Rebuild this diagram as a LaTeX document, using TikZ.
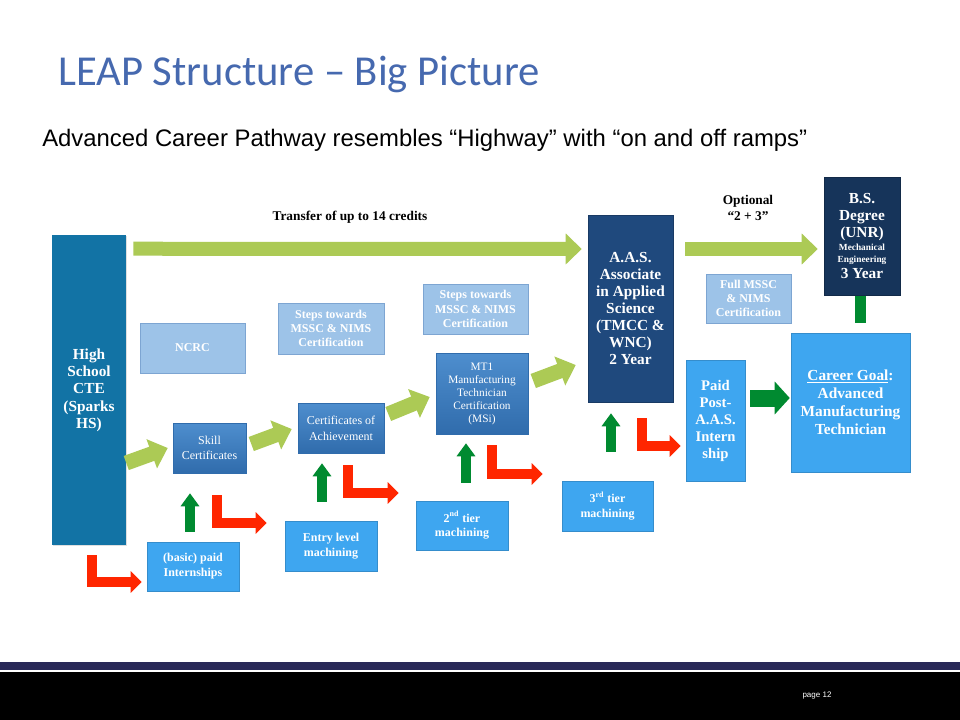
\documentclass[tikz,border=0pt]{standalone}
\usepackage{fontspec}
\setmainfont{Liberation Serif}
\newfontfamily\titlefont{Carlito}
\newfontfamily\arialfont{Liberation Sans}
\usetikzlibrary{arrows.meta, calc, shadows}
\definecolor{titleblue}{RGB}{70, 105, 175}
\definecolor{hsblue}{RGB}{18, 115, 165}
\definecolor{lightbox}{RGB}{157, 195, 232}
\definecolor{lightedge}{RGB}{125, 165, 210}
\definecolor{medtop}{RGB}{78, 142, 206}
\definecolor{medbot}{RGB}{48, 108, 172}
\definecolor{aasnavy}{RGB}{31, 73, 125}
\definecolor{bsnavy}{RGB}{22, 52, 90}
\definecolor{brightblue}{RGB}{62, 166, 240}
\definecolor{limegreen}{RGB}{172, 202, 85}
\definecolor{darkgreen}{RGB}{0, 138, 48}
\definecolor{rampred}{RGB}{255, 38, 0}
\definecolor{footnavy}{RGB}{40, 40, 88}

\begin{document}
\begin{tikzpicture}[
    x=0.75pt, y=-0.75pt,
    shadowed/.style={drop shadow={shadow xshift=1pt, shadow yshift=-1pt, opacity=0.25}},
    hsbox/.style={shadowed, fill=hsblue, text=white, font=\fontsize{11.5}{13}\selectfont\bfseries, align=center},
    navybox/.style={shadowed, fill=aasnavy, draw=aasnavy!80!black, text=white, font=\fontsize{11.5}{12.8}\selectfont\bfseries, align=center},
    stepbox/.style={shadowed, fill=lightbox, draw=lightedge, text=white, font=\fontsize{9}{10.7}\selectfont\bfseries, align=center},
    certbox/.style={shadowed, top color=medtop, bottom color=medbot, draw=medbot, text=white, font=\fontsize{9}{11.8}\selectfont, align=center},
    rampbox/.style={shadowed, fill=brightblue, draw=brightblue!85!black, text=white, font=\fontsize{9}{11.2}\selectfont\bfseries, align=center},
    limearrow/.style={line width=11.25pt, limegreen, -{Triangle[length=12.75pt, width=22.5pt]}},
    hwyarrow/.style={line width=10.5pt, limegreen, -{Triangle[length=12pt, width=22.5pt]}},
    uparrow/.style={line width=7.5pt, darkgreen, -{Triangle[length=9.75pt, width=13.5pt]}},
    goalarrow/.style={line width=12.75pt, darkgreen, -{Triangle[length=11.25pt, width=24pt]}},
    offramp/.style={line width=7.5pt, rampred, line join=miter, -{Triangle[length=8.25pt, width=15.75pt]}},
    lbl/.style={font=\fontsize{10}{11.5}\selectfont\bfseries, align=center}
]

% Slide frame
\fill [white] (0,0) rectangle (960,720);
\useasboundingbox (0,0) rectangle (960,720);
\node (title) [anchor=base west, inner sep=0pt, text=titleblue, font=\titlefont\fontsize{32}{38}\selectfont] at (58,86) {LEAP Structure – Big Picture};
\node (subtitle) [anchor=base west, inner sep=0pt, font=\arialfont\fontsize{17.9}{21}\selectfont] at (42,147) {Advanced Career Pathway resembles “Highway” with “on and off ramps”};

% Start and degrees
\node (hs) [hsbox, minimum width=55.5pt, minimum height=232.5pt] at (89,390) {High\\School\\CTE\\(Sparks\\HS)};
\node (aas) [navybox, minimum width=63.75pt, minimum height=140.25pt] at (630.5,308.5) {A.A.S.\\Associate\\in Applied\\Science\\(TMCC \&\\WNC)\\2 Year};
\node (bs) [navybox, fill=bsnavy, draw=bsnavy!80!black, minimum width=57pt, minimum height=88.5pt] at (862,236) {B.S.\\Degree\\(UNR)\\[-3pt]{\fontsize{7}{8}\selectfont Mechanical}\\[-4pt]{\fontsize{7}{8}\selectfont Engineering}\\[-1pt]3 Year};

% Certification steps
\node (ncrc) [stepbox, minimum width=78.75pt, minimum height=37.5pt] at (192.5,348) {NCRC};
\node (steps1) [stepbox, minimum width=79.5pt, minimum height=38.25pt] at (331,328.5) {Steps towards\\MSSC \& NIMS\\Certification};
\node (steps2) [stepbox, minimum width=78.75pt, minimum height=37.5pt] at (475.5,309) {Steps towards\\MSSC \& NIMS\\Certification};
\node (full) [stepbox, minimum width=63.75pt, minimum height=36.75pt] at (748.5,298.5) {Full MSSC\\\& NIMS\\Certification};

% Certificates
\node (skill) [certbox, minimum width=54.75pt, minimum height=37.5pt] at (209.5,448) {Skill\\Certificates};
\node (cert) [certbox, minimum width=64.5pt, minimum height=37.5pt] at (341,428) {Certificates of\\Achievement};
\node (mt1) [certbox, font=\fontsize{8.5}{9.75}\selectfont, minimum width=69pt, minimum height=60.75pt] at (482,393.5) {MT1\\Manufacturing\\Technician\\Certification\\(MSi)};

% On and off ramps
\node (intern) [rampbox, minimum width=69pt, minimum height=36.75pt] at (193,566.5) {(basic) paid\\Internships};
\node (entry) [rampbox, minimum width=69pt, minimum height=37.5pt] at (331,546) {Entry level\\machining};
\node (tier2) [rampbox, minimum width=69pt, minimum height=36.75pt] at (462,525.5) {2\textsuperscript{nd} tier\\machining};
\node (tier3) [rampbox, minimum width=68.25pt, minimum height=37.5pt] at (607.5,506) {3\textsuperscript{rd} tier\\machining};
\node (paid) [rampbox, font=\fontsize{11}{12.75}\selectfont\bfseries, minimum width=44.25pt, minimum height=90.75pt] at (715.5,420.5) {Paid\\Post-\\A.A.S.\\Intern\\ship};
\node (goal) [rampbox, font=\fontsize{11.5}{13.5}\selectfont\bfseries, minimum width=89.25pt, minimum height=104.25pt] at (850.5,402.5) {\underline{Career Goal}:\\Advanced\\Manufacturing\\Technician};

% Labels
\node (transfer) [lbl] at (350,217) {Transfer of up to 14 credits};
\node (optional) [lbl] at (748,208) {Optional\\“2 + 3”};

% Highway arrows
\draw [hwyarrow] ($(hs.north east)+(7,14)$) -- ($(aas.west)+(-6,-59.5)$);
\draw [hwyarrow] ($(aas.east)+(12,-59.5)$) -- ($(bs.west)+(-6,13)$);
\draw [limearrow] ($(hs.east)+(0,73)$) -- ($(skill.west)+(-5,0)$);
\draw [limearrow] ($(skill.east)+(5,-4)$) -- ($(cert.west)+(-6,1)$);
\draw [limearrow] ($(cert.east)+(4,-14)$) -- ($(mt1.west)+(-6,3.5)$);
\draw [limearrow] ($(mt1.east)+(5,-12.5)$) -- ($(aas.west)+(-12,56.5)$);

% On ramps
\draw [uparrow] ($(intern.north)+(-3,-10)$) -- ($(skill.south)+(-19.5,20)$);
\draw [uparrow] ($(entry.north)+(-9,-19)$) -- ($(cert.south)+(-19,10)$);
\draw [uparrow] ($(tier2.north)+(4,-18)$) -- ($(mt1.south)+(-16,9)$);
\draw [uparrow] ($(tier3.north)+(3.5,-29)$) -- ($(aas.south)+(-19.5,11)$);
\draw [goalarrow] ($(paid.east)+(5,-22.5)$) -- ($(goal.west)+(-1,-4.5)$);
\draw [darkgreen, line width=8.25pt] ($(bs.south)+(-2,1)$) -- ($(goal.north)+(9.5,-10)$);

% Off ramps
\draw [offramp] ($(hs.south)+(2.5,10)$) |- ($(intern.west)+(-5,15.5)$);
\draw [offramp] ($(skill.south)+(7.5,22)$) |- ($(entry.west)+(-18,-23)$);
\draw [offramp] ($(cert.south)+(7,12)$) |- ($(tier2.west)+(-17,-32.5)$);
\draw [offramp] ($(mt1.south)+(10,11)$) |- ($(tier3.west)+(-19,-32)$);
\draw [offramp] ($(aas.south)+(11.5,16)$) |- ($(paid.west)+(-5,25.5)$);

% Footer
\fill [footnavy] (0,662) rectangle (960,670);
\fill [black] (0,672) rectangle (960,720);
\node (page) [text=white, font=\arialfont\fontsize{6}{7}\selectfont] at (817,696) {page 12};

\end{tikzpicture}
\end{document}
